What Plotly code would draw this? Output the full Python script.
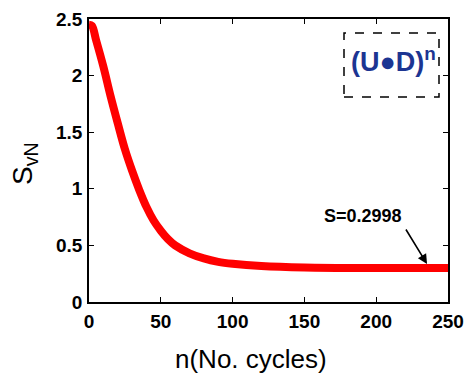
import plotly.graph_objects as go

n_cycles = [0, 2, 5, 10, 15, 20, 25, 30, 35, 40, 45, 50, 55, 60, 70, 80, 90, 100, 120, 150, 200, 250]
s_vn = [2.45, 2.44, 2.31, 2.08, 1.82, 1.58, 1.35, 1.16, 0.99, 0.84, 0.72, 0.63, 0.555, 0.50, 0.43, 0.385,
        0.355, 0.338, 0.318, 0.305, 0.300, 0.2998]
x_ticks = [0, 50, 100, 150, 200, 250]
x_tick_text = ["<b>0</b>", "<b>50</b>", "<b>100</b>", "<b>150</b>", "<b>200</b>", "<b>250</b>"]
y_ticks = [0, 0.5, 1, 1.5, 2, 2.5]
y_tick_text = ["<b>0</b>", "<b>0.5</b>", "<b>1</b>", "<b>1.5</b>", "<b>2</b>", "<b>2.5</b>"]

FONT = "Arial, Liberation Sans, sans-serif"

fig = go.Figure()
fig.add_trace(go.Scatter(x=n_cycles, y=s_vn, mode="lines",
                         line=dict(color="#ff0000", width=8, shape="spline", smoothing=1.0),
                         showlegend=False, hoverinfo="skip"))

axis_common = dict(showgrid=False, zeroline=False, showline=True, linecolor="black", linewidth=1.5,
                   mirror="ticks", ticks="inside", ticklen=5, tickwidth=1, tickcolor="black",
                   automargin=False,
                   tickfont=dict(family=FONT, size=19, color="black"))

L, R, T, B = 89, 18, 19, 71
W, H = 466, 373
pw, ph = W - L - R, H - T - B

def px(xp):
    return (xp - L) / pw

def py(yp):
    return (H - B - yp) / ph

ann_common = dict(xref="paper", yref="paper", showarrow=False, xanchor="center", yanchor="middle")

fig.update_layout(
    width=W, height=H,
    margin=dict(l=L, r=R, t=T, b=B),
    paper_bgcolor="white", plot_bgcolor="white",
    xaxis=dict(range=[0, 250], tickvals=x_ticks, ticktext=x_tick_text, ticklabelstandoff=1, **axis_common),
    yaxis=dict(range=[0, 2.5], tickvals=y_ticks, ticktext=y_tick_text, ticklabelstandoff=1, **axis_common),
    shapes=[dict(type="rect", xref="paper", yref="paper", x0=px(344), x1=px(439), y0=py(97), y1=py(33),
                 line=dict(color="black", width=1.5, dash="dash"), layer="below")],
    annotations=[
        dict(x=px(393), y=py(60), text="<b>(U\u25cfD)<sup>n</sup></b>",
             font=dict(family=FONT, size=27, color="#1c3592"), **ann_common),
        dict(x=235.4, y=0.336, xref="x", yref="y", showarrow=True, text="",
             ax=-22, ay=-36, arrowhead=2, arrowsize=1.2, arrowwidth=1.6, arrowcolor="black"),
        dict(x=px(363), y=py(216), text="<b>S=0.2998</b>",
             font=dict(family=FONT, size=18, color="black"), **ann_common),
        dict(x=px(251), y=py(359), text="n(No. cycles)",
             font=dict(family=FONT, size=26, color="black"), **ann_common),
        dict(x=px(24), y=py(164), textangle=-90, text="S<sub>vN</sub>",
             font=dict(family=FONT, size=28, color="black"), **ann_common),
    ],
)

fig.write_html("out.html", config={"displayModeBar": False},
               post_script="document.body.style.margin='0';document.body.style.padding='0';")
